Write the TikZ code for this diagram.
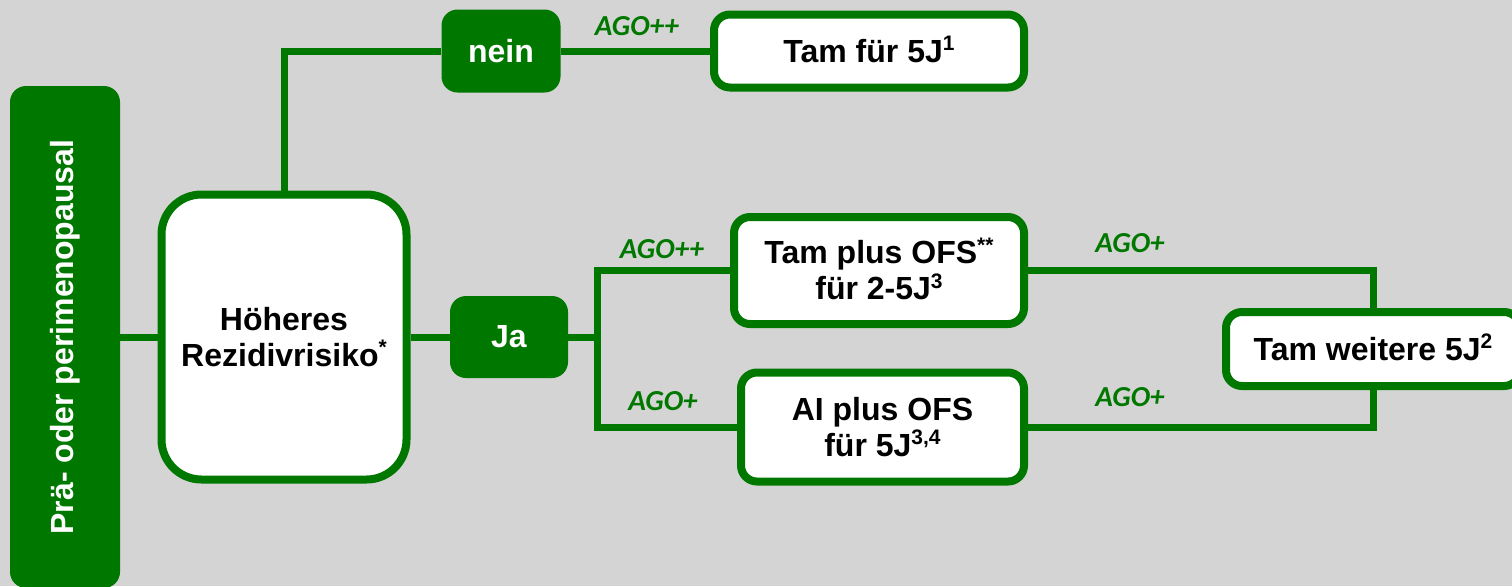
\documentclass[tikz,border=0pt]{standalone}
\usepackage{fontspec}
\setmainfont{Liberation Sans}
\newfontfamily\agofont{Carlito}
\definecolor{gr}{RGB}{0,120,0}
\definecolor{bgc}{RGB}{212,212,212}
\newcommand{\supx}[1]{\smash{\raisebox{0.36em}{\fontsize{10.5}{10.5}\selectfont #1}}}
\tikzset{
  txt/.style={align=center, inner sep=0pt, font=\fontsize{16}{18}\selectfont\bfseries},
  wbox/.style={txt, draw=gr, line width=4pt, fill=white, rounded corners=8pt},
  gbox/.style={txt, fill=gr, text=white, rounded corners=8pt},
  conn/.style={draw=gr, line width=3.5pt},
  ago/.style={text=gr, inner sep=0pt, font=\agofont\fontsize{14.5}{16}\selectfont\bfseries\itshape},
}
\begin{document}
\begin{tikzpicture}[x=0.5pt,y=-0.5pt]
\useasboundingbox (0,0) rectangle (1512,586);
\fill[bgc] (0,0) rectangle (1512,586);

\node[gbox, minimum width=55pt, minimum height=251pt] (bar) at (65,337)
  {\rotatebox{90}{Prä- oder perimenopausal}};
\node[wbox, rounded corners=20pt, minimum width=122.5pt, minimum height=142.5pt] (hoch) at (284,337)
  {Höheres\\Rezidivrisiko\supx{*}};
\node[gbox, minimum width=59.5pt, minimum height=41.5pt] (nein) at (501,51) {nein};
\node[wbox, minimum width=155pt, minimum height=36.5pt] (tam1) at (869,51) {Tam für 5J\supx{1}};
\node[gbox, minimum width=59pt, minimum height=41pt] (ja) at (509,337) {Ja};
\node[wbox, minimum width=145pt, minimum height=53.5pt] (tamofs) at (879,270.5)
  {Tam plus OFS\supx{**}\\für 2-5J\supx{3}};
\node[wbox, minimum width=141.5pt, minimum height=54.5pt] (aiofs) at (882.5,427)
  {AI plus OFS\\für 5J\supx{3,4}};
\node[wbox, minimum width=147pt, minimum height=37pt] (tamw) at (1373,349)
  {Tam weitere 5J\supx{2}};

\coordinate (split) at (597,337);

\draw[conn] (bar.east) -- (hoch.west);
\draw[conn] (hoch.north) |- (nein.west);
\draw[conn] (nein.east) -- (tam1.west);
\draw[conn] (hoch.east) -- (ja.west);
\draw[conn] (ja.east) -- (split);
\draw[conn] (split) |- (tamofs.west);
\draw[conn] (split) |- (aiofs.west);
\draw[conn] (tamofs.east) -| (tamw.north);
\draw[conn] (aiofs.east) -| (tamw.south);

\node[ago] (l1) at (637,26) {AGO++};
\node[ago] (l2) at (662,249) {AGO++};
\node[ago] (l3) at (663,401) {AGO+};
\node[ago] (l4) at (1130,243) {AGO+};
\node[ago] (l5) at (1130,397) {AGO+};
\end{tikzpicture}
\end{document}
